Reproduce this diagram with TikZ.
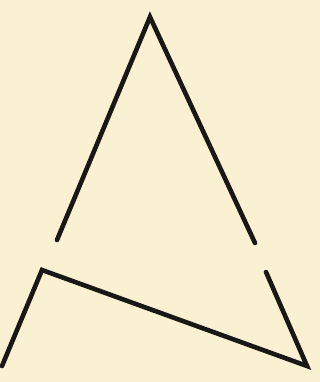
\documentclass[tikz,border=0pt]{standalone}
\definecolor{paper}{HTML}{FAF0D2}
\definecolor{ink}{HTML}{1A1816}
\tikzset{stroke/.style={draw=ink, line width=4.6pt, line cap=round, line join=miter}}
\begin{document}
\begin{tikzpicture}[x=1pt,y=-1pt]
\fill[paper] (0,0) rectangle (320,382);
\useasboundingbox (0,0) rectangle (320,382);
\coordinate (a1) at (57,240);
\coordinate (apex) at (150,17);
\coordinate (a2) at (255,243);
\coordinate (b0) at (2,366);
\coordinate (b1) at (42,270);
\coordinate (b2) at (307,366);
\coordinate (b3) at (266,272);
\draw[stroke] (a1) -- (apex) -- (a2);
\draw[stroke] (b0) -- (b1) -- (b2) -- (b3);
\end{tikzpicture}
\end{document}
